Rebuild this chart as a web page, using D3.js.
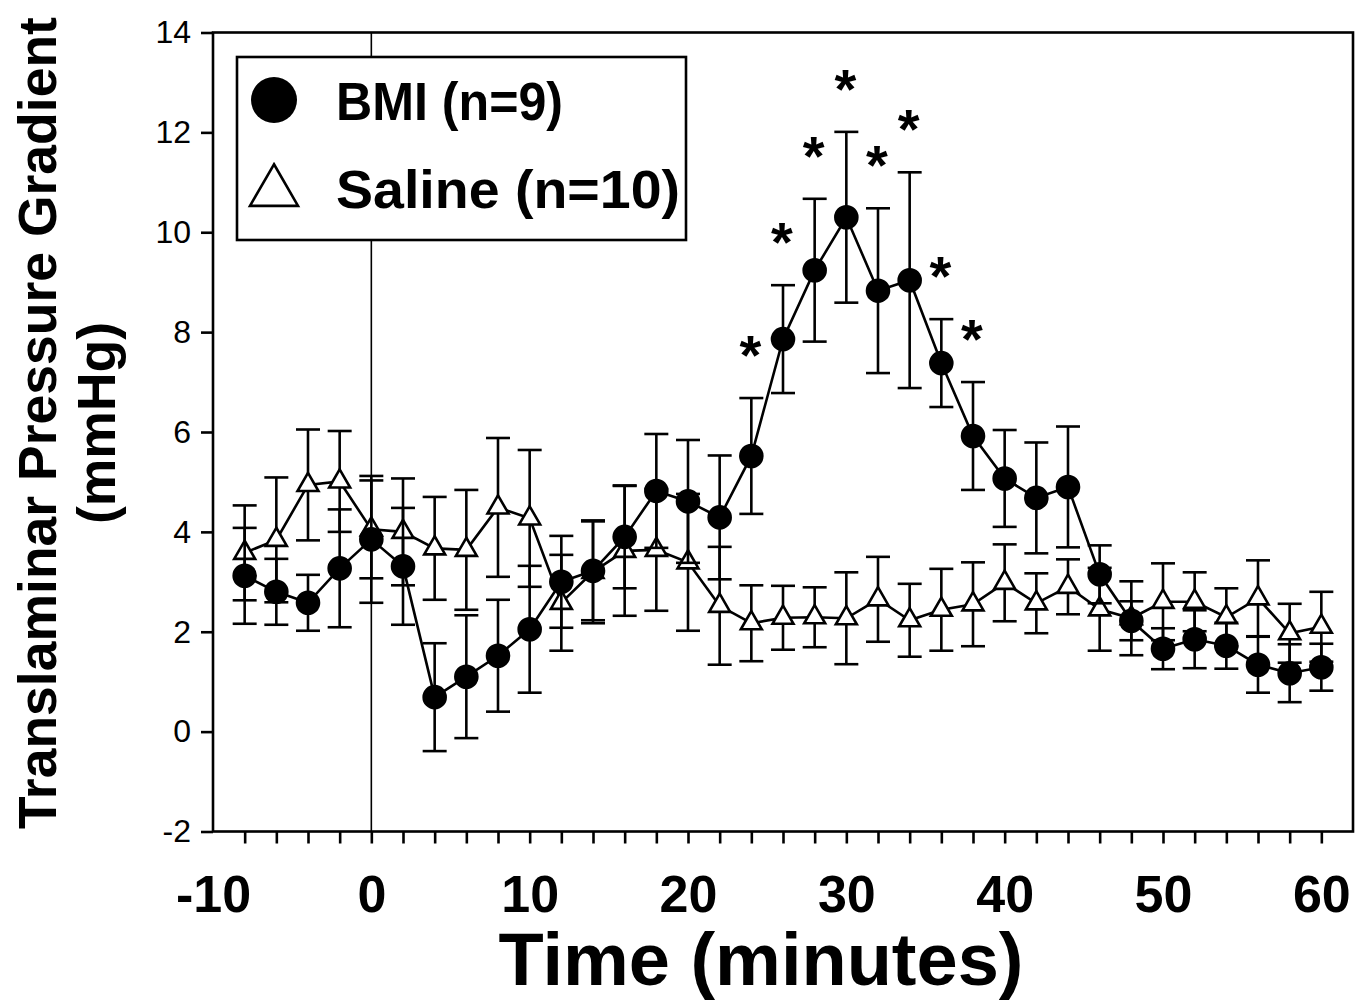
<!DOCTYPE html>
<html>
<head>
<meta charset="utf-8">
<script src="https://cdn.jsdelivr.net/npm/d3@7"></script>
<style>
  html, body { margin: 0; padding: 0; background: #fff; }
  svg text { font-family: "Liberation Sans", Arial, Helvetica, sans-serif; fill: #000; }
</style>
</head>
<body>
<svg id="chart" width="1370" height="1004"></svg>
<script>
// Sampling times (minutes relative to injection)
const timePoints = [-8, -6, -4, -2, 0, 2, 4, 6, 8, 10, 12, 14, 16, 18, 20, 22, 24, 26,
                    28, 30, 32, 34, 36, 38, 40, 42, 44, 46, 48, 50, 52, 54, 56, 58, 60];

// BMI group: mean and SEM of translaminar pressure gradient (mmHg)
const bmiMean = [3.12, 2.80, 2.58, 3.27, 3.85, 3.31, 0.69, 1.10, 1.52, 2.05, 3.00, 3.22,
                 3.90, 4.82, 4.61, 4.29, 5.52, 7.86, 9.24, 10.30, 8.83, 9.04, 7.38, 5.92,
                 5.07, 4.68, 4.90, 3.15, 2.22, 1.66, 1.85, 1.72, 1.34, 1.17, 1.29];
const bmiSE = [0.96, 0.66, 0.56, 1.18, 1.27, 1.17, 1.08, 1.23, 1.12, 1.27, 0.92, 0.99,
               1.03, 1.14, 1.23, 1.24, 1.16, 1.08, 1.43, 1.71, 1.65, 2.16, 0.88, 1.08,
               0.97, 1.11, 1.21, 0.58, 0.39, 0.41, 0.58, 0.46, 0.56, 0.58, 0.47];

// Saline group: mean and SEM
const salineMean = [3.58, 3.84, 4.94, 5.01, 4.05, 4.00, 3.67, 3.64, 4.49, 4.27, 2.58, 3.20,
                    3.62, 3.64, 3.39, 2.52, 2.17, 2.28, 2.29, 2.27, 2.65, 2.23, 2.44, 2.55,
                    2.98, 2.57, 2.90, 2.45, 2.27, 2.60, 2.60, 2.29, 2.67, 1.97, 2.10];
const salineSE = [0.95, 1.25, 1.11, 1.01, 0.98, 1.07, 1.03, 1.20, 1.39, 1.37, 0.96, 1.03,
                  1.30, 1.22, 1.37, 1.18, 0.76, 0.64, 0.60, 0.92, 0.85, 0.73, 0.82, 0.84,
                  0.77, 0.60, 0.55, 0.83, 0.74, 0.77, 0.59, 0.58, 0.76, 0.59, 0.70];

// Time points where BMI differs significantly from saline
const significantTimes = [24, 26, 28, 30, 32, 34, 36, 38];

const xTickLabels = [-10, 0, 10, 20, 30, 40, 50, 60];
const yTickValues = [-2, 0, 2, 4, 6, 8, 10, 12, 14];
const seriesNames = ["BMI (n=9)", "Saline (n=10)"];
const xAxisTitle = "Time (minutes)";
const yAxisTitle = ["Translaminar Pressure Gradient", "(mmHg)"];

const svg = d3.select("#chart");
const x = d3.scaleLinear().domain([-10, 62]).range([213, 1353]);
const y = d3.scaleLinear().domain([-2, 14]).range([831.5, 32.5]);

const STROKE = 2.6;
const plainNumber = d => String(d);   // hyphen-minus, as in the printed figure

// Minor ticks every 2 minutes
svg.append("g")
  .attr("transform", `translate(0,${y(-2)})`)
  .call(d3.axisBottom(x).tickValues(timePoints).tickSize(12).tickFormat(""))
  .call(g => g.select(".domain").remove())
  .call(g => g.selectAll("line").attr("stroke", "#000").attr("stroke-width", STROKE));

// Major tick labels
svg.append("g")
  .attr("transform", `translate(0,${y(-2)})`)
  .attr("font-size", 52)
  .call(d3.axisBottom(x).tickValues(xTickLabels).tickSize(0).tickPadding(44)
        .tickFormat(plainNumber))
  .call(g => g.select(".domain").remove())
  .call(g => g.selectAll("text")
        .attr("font-size", 52).attr("font-weight", "bold")
        .attr("font-family", "'Liberation Sans', Arial, sans-serif")
        .attr("fill", "#000"));

// Y axis
svg.append("g")
  .attr("transform", `translate(${x(-10)},0)`)
  .attr("font-size", 32)
  .call(d3.axisLeft(y).tickValues(yTickValues).tickSize(12).tickPadding(10)
        .tickFormat(plainNumber))
  .call(g => g.select(".domain").remove())
  .call(g => g.selectAll("line").attr("stroke", "#000").attr("stroke-width", STROKE))
  .call(g => g.selectAll("text")
        .attr("font-size", 32)
        .attr("font-family", "'Liberation Sans', Arial, sans-serif")
        .attr("fill", "#000"));

// Plot frame
svg.append("rect")
  .attr("x", x(-10)).attr("y", y(14))
  .attr("width", x(62) - x(-10)).attr("height", y(-2) - y(14))
  .attr("fill", "none").attr("stroke", "#000").attr("stroke-width", STROKE);

// Reference line at injection time
svg.append("line")
  .attr("x1", x(0)).attr("x2", x(0))
  .attr("y1", y(14)).attr("y2", y(-2))
  .attr("stroke", "#000").attr("stroke-width", 1.6);

// Axis titles
svg.append("text")
  .attr("x", 761).attr("y", 985)
  .attr("text-anchor", "middle")
  .attr("font-size", 74).attr("font-weight", "bold")
  .text(xAxisTitle);

const yTitle = svg.append("g").attr("transform", "translate(0,423) rotate(-90)");
yTitle.append("text")
  .attr("x", 0).attr("y", 56)
  .attr("text-anchor", "middle")
  .attr("font-size", 53.5).attr("font-weight", "bold")
  .text(yAxisTitle[0]);
yTitle.append("text")
  .attr("x", 0).attr("y", 115)
  .attr("text-anchor", "middle")
  .attr("font-size", 53.5).attr("font-weight", "bold")
  .text(yAxisTitle[1]);

// Draw one series: connecting line, SEM bars, markers
const CAP = 12;
function drawSeries(means, ses, symbolType, symbolSize, fill) {
  const pts = timePoints.map((t, i) => ({ t, m: means[i], s: ses[i] }));
  const g = svg.append("g");
  g.append("path")
    .datum(pts)
    .attr("fill", "none").attr("stroke", "#000").attr("stroke-width", STROKE)
    .attr("d", d3.line().x(d => x(d.t)).y(d => y(d.m)));

  const bars = g.append("g").selectAll("g").data(pts).join("g")
    .attr("stroke", "#000").attr("stroke-width", STROKE);
  bars.append("line")
    .attr("x1", d => x(d.t)).attr("x2", d => x(d.t))
    .attr("y1", d => y(d.m + d.s)).attr("y2", d => y(d.m - d.s));
  bars.append("line")
    .attr("x1", d => x(d.t) - CAP).attr("x2", d => x(d.t) + CAP)
    .attr("y1", d => y(d.m + d.s)).attr("y2", d => y(d.m + d.s));
  bars.append("line")
    .attr("x1", d => x(d.t) - CAP).attr("x2", d => x(d.t) + CAP)
    .attr("y1", d => y(d.m - d.s)).attr("y2", d => y(d.m - d.s));

  g.append("g").selectAll("path").data(pts).join("path")
    .attr("transform", d => `translate(${x(d.t)},${y(d.m)})`)
    .attr("d", d3.symbol().type(symbolType).size(symbolSize))
    .attr("fill", fill).attr("stroke", "#000").attr("stroke-width", STROKE);
  return pts;
}

drawSeries(salineMean, salineSE, d3.symbolTriangle, 190, "#fff");
const bmiPts = drawSeries(bmiMean, bmiSE, d3.symbolCircle, Math.PI * 11 * 11, "#000");

// Significance markers above the BMI error bars
svg.append("g").selectAll("text")
  .data(bmiPts.filter(d => significantTimes.includes(d.t)))
  .join("text")
  .attr("x", d => x(d.t) - 1)
  .attr("y", d => y(d.m + d.s) - 24)
  .attr("text-anchor", "middle")
  .attr("font-size", 56).attr("font-weight", "bold")
  .text("*");

// Legend
const legend = svg.append("g");
legend.append("rect")
  .attr("x", 237).attr("y", 57).attr("width", 449).attr("height", 183)
  .attr("fill", "#fff").attr("stroke", "#000").attr("stroke-width", STROKE);
legend.append("path")
  .attr("transform", "translate(274,100)")
  .attr("d", d3.symbol().type(d3.symbolCircle).size(Math.PI * 23 * 23))
  .attr("fill", "#000");
legend.append("path")
  .attr("transform", "translate(274,192)")
  .attr("d", d3.symbol().type(d3.symbolTriangle).size(1000))
  .attr("fill", "#fff").attr("stroke", "#000").attr("stroke-width", STROKE);
legend.append("text")
  .attr("x", 336).attr("y", 120)
  .attr("font-size", 54).attr("font-weight", "bold")
  .attr("textLength", 227).attr("lengthAdjust", "spacingAndGlyphs")
  .text(seriesNames[0]);
legend.append("text")
  .attr("x", 336).attr("y", 208)
  .attr("font-size", 54).attr("font-weight", "bold")
  .attr("textLength", 344).attr("lengthAdjust", "spacingAndGlyphs")
  .text(seriesNames[1]);
</script>
</body>
</html>
